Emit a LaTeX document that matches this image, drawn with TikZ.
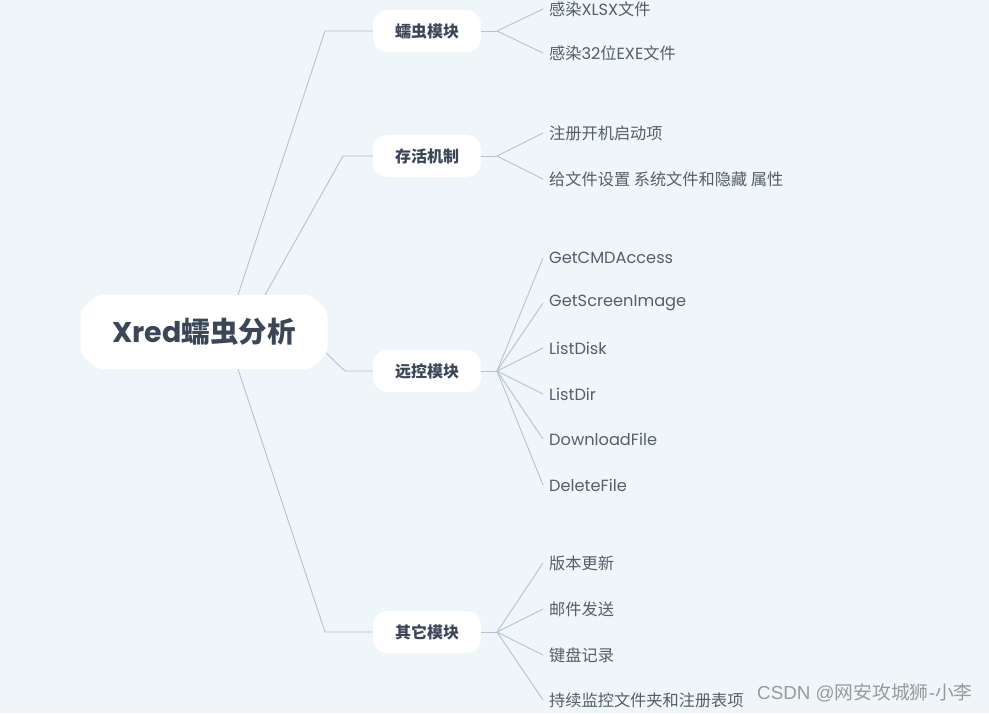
\documentclass[tikz,border=0pt]{standalone}
\usepackage{fontspec}
\setmainfont{Noto Sans CJK SC}
\newfontfamily\lat{Poppins}
\newfontfamily\wmlat{Liberation Sans}
\usetikzlibrary{shapes.misc}
\definecolor{bg}{HTML}{EEF6F9}
\definecolor{dark}{HTML}{3B4658}
\definecolor{leaftxt}{HTML}{555D6A}
\definecolor{ln}{HTML}{B7C2CA}
\definecolor{wm}{HTML}{9A9A9A}
\tikzset{
  rootbox/.style={chamfered rectangle, chamfered rectangle xsep=12pt, fill=white, draw=none,
    rounded corners=7pt, minimum width=247pt, minimum height=74pt, inner sep=0pt,
    font=\fontsize{28.5}{32}\selectfont\bfseries, text=dark},
  branchbox/.style={chamfered rectangle, chamfered rectangle xsep=5pt, fill=white, draw=none,
    rounded corners=6pt, minimum width=108pt, minimum height=42pt, inner sep=0pt,
    font=\fontsize{16}{19}\selectfont\bfseries, text=dark},
  leaf/.style={anchor=west, inner sep=0pt, font=\fontsize{16.2}{19}\selectfont, text=leaftxt},
  conn/.style={draw=ln, line width=0.9pt},
}
\begin{document}
\begin{tikzpicture}[x=1pt,y=-1pt]
\useasboundingbox[fill=bg] (0,0) rectangle (989,713);
\coordinate (r1) at (238,295);
\coordinate (r2) at (265,295);
\coordinate (r3) at (325,352);
\coordinate (r4) at (238,369);
\coordinate (k1) at (325,31);
\coordinate (k2) at (343,156);
\coordinate (k3) at (345,371);
\coordinate (k4) at (325,632);
\coordinate (h1) at (497,31);
\coordinate (h2) at (497,156);
\coordinate (h3) at (497,371);
\coordinate (h4) at (497,632);

\node[branchbox] (b1) at (427,31) {蠕虫模块};
\node[branchbox] (b2) at (427,156) {存活机制};
\node[branchbox] (b3) at (427,371) {远控模块};
\node[branchbox] (b4) at (427,632) {其它模块};

\draw[conn] (r1) -- (k1) -- (b1.west);
\draw[conn] (r2) -- (k2) -- (b2.west);
\draw[conn] (r3) -- (k3) -- (b3.west);
\draw[conn] (r4) -- (k4) -- (b4.west);

\node[rootbox] (root) at (204,332) {{\lat\bfseries Xred}蠕虫分析};

\node[leaf] (l11) at (549,9) {感染{\lat XLSX}文件};
\node[leaf] (l12) at (549,53) {感染{\lat 32}位{\lat EXE}文件};
\node[leaf] (l21) at (549,133) {注册开机启动项};
\node[leaf] (l22) at (549,179) {给文件设置 系统文件和隐藏 属性};
\node[leaf] (l31) at (549,258) {\lat GetCMDAccess};
\node[leaf] (l32) at (549,303) {\lat GetScreenImage};
\node[leaf] (l33) at (549,348) {\lat ListDisk};
\node[leaf] (l34) at (549,394) {\lat ListDir};
\node[leaf] (l35) at (549,439) {\lat DownloadFile};
\node[leaf] (l36) at (549,485) {\lat DeleteFile};
\node[leaf] (l41) at (549,563) {版本更新};
\node[leaf] (l42) at (549,609) {邮件发送};
\node[leaf] (l43) at (549,655) {键盘记录};
\node[leaf] (l44) at (549,700) {持续监控文件夹和注册表项};

\draw[conn] (b1.east) -- (h1);
\draw[conn] (b2.east) -- (h2);
\draw[conn] (b3.east) -- (h3);
\draw[conn] (b4.east) -- (h4);
\foreach \h/\l in {h1/l11,h1/l12,h2/l21,h2/l22,h3/l31,h3/l32,h3/l33,h3/l34,h3/l35,h3/l36,h4/l41,h4/l42,h4/l43,h4/l44}
  \draw[conn] (\h) -- ([xshift=-6pt]\l.west);

\node[anchor=west, inner sep=0pt, font=\fontsize{18.8}{22}\selectfont, text=wm] (wmark) at (757,693) {{\wmlat CSDN @}网安攻城狮{\wmlat -}小李};
\end{tikzpicture}
\end{document}
